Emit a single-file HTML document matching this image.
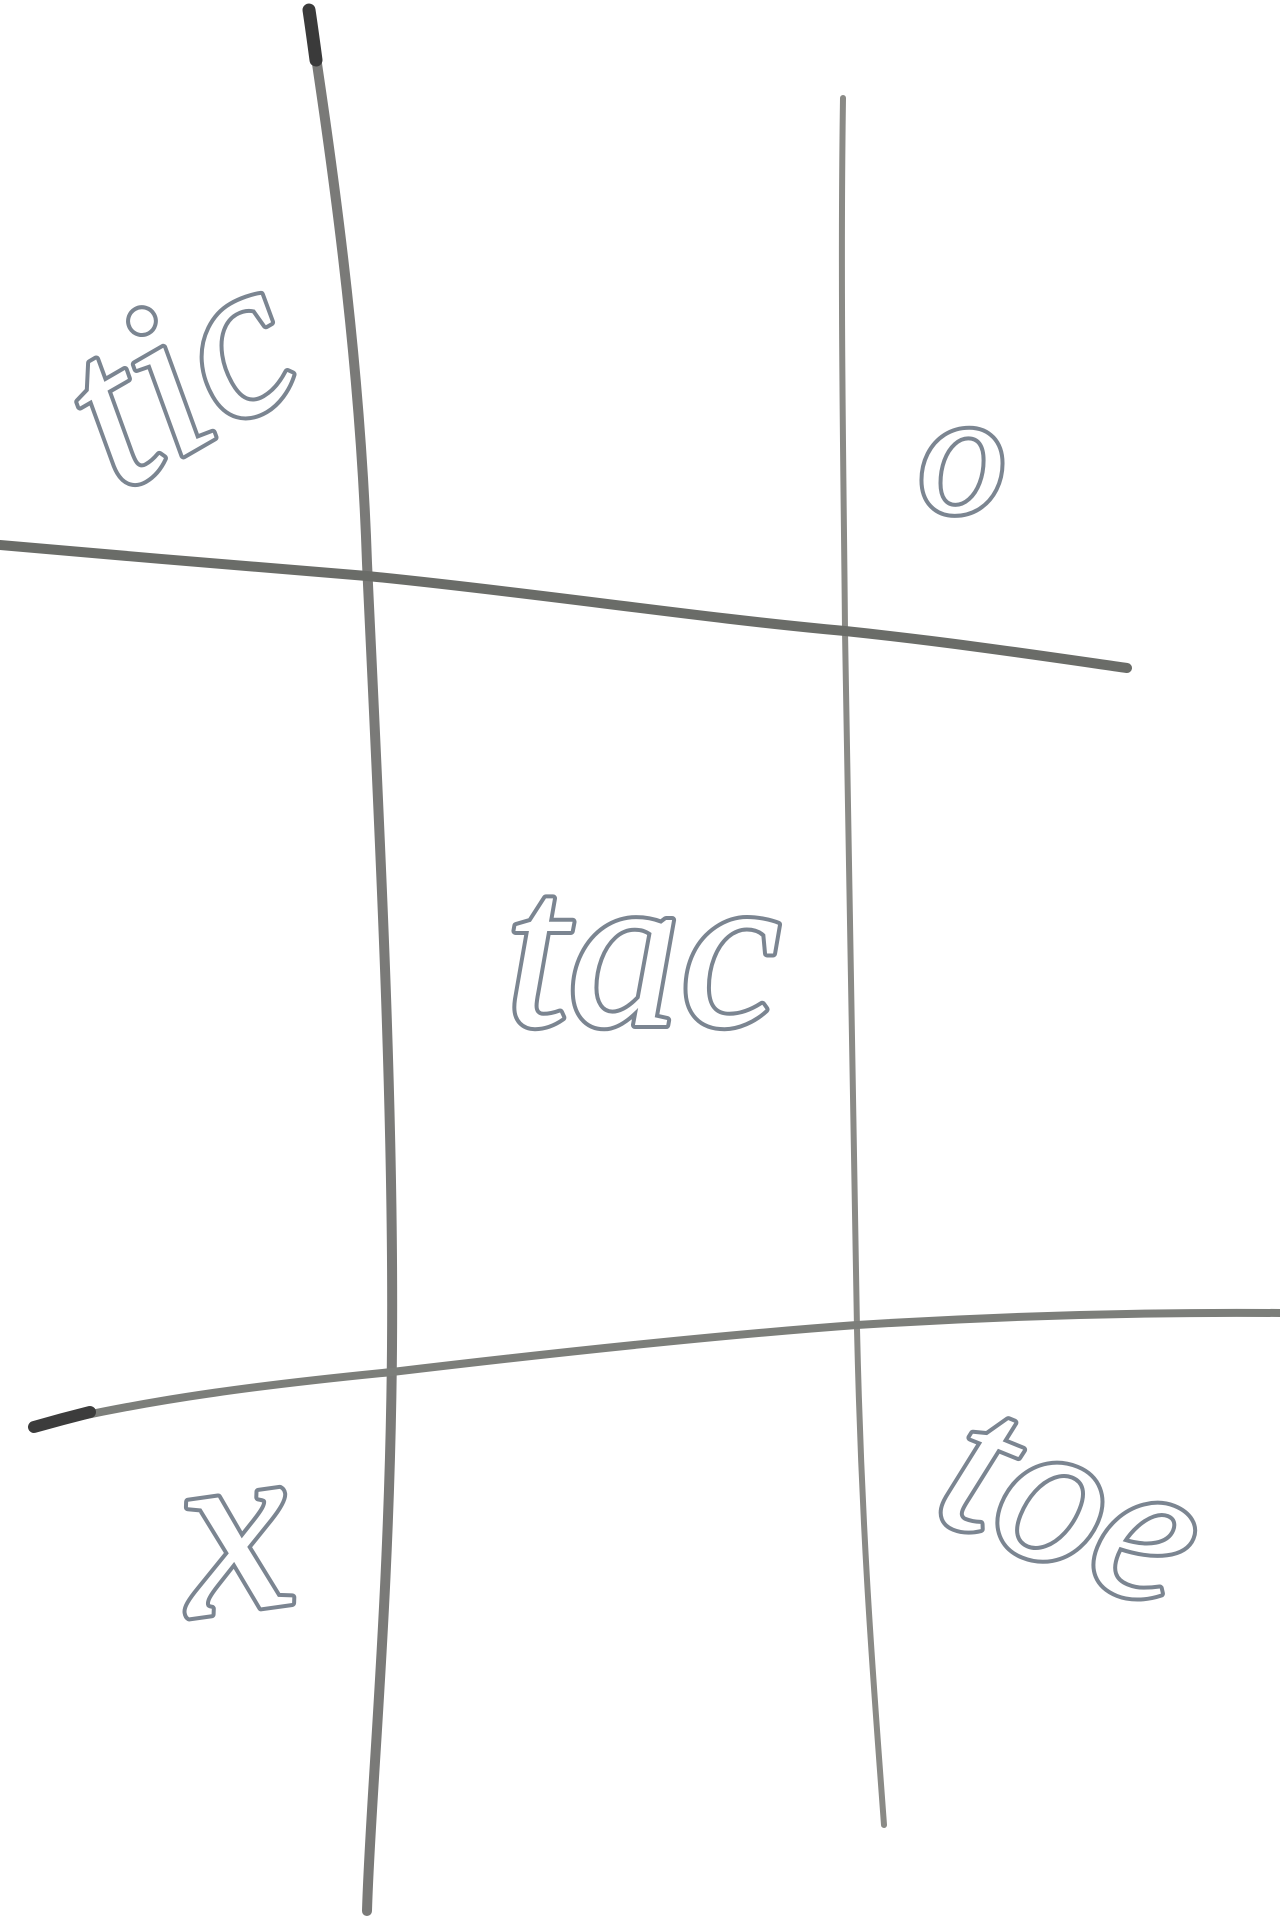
<!DOCTYPE html>
<html>
<head>
<meta charset="utf-8">
<style>
html,body{margin:0;padding:0;background:#fff;}
svg{display:block;}
.w{font-family:"Liberation Serif",serif;font-style:italic;fill:#fff;stroke:#7b8591;stroke-width:8;paint-order:stroke;stroke-linejoin:round;}
</style>
</head>
<body>
<svg width="1280" height="1920" viewBox="0 0 1280 1920">
  <rect width="1280" height="1920" fill="#fff"/>
  <g fill="none" stroke-linecap="round">
    <path d="M309 10 C330 150 360 350 367 563 C378 800 394 1100 392 1347 C390 1600 370 1800 367 1911" stroke="#7a7a78" stroke-width="10"/>
    <path d="M309 10 C312 30 314 45 316 60" stroke="#3a3a3a" stroke-width="13"/>
    <path d="M843 98 C840 300 844 500 845 631 C848 900 852 1150 857 1329 C862 1550 875 1700 884 1825" stroke="#8a8a86" stroke-width="6"/>
    <path d="M0 545 C120 556 250 566 367 576 C530 592 700 618 845 631 C950 642 1050 657 1127 668" stroke="#6a6c68" stroke-width="10"/>
    <path d="M34 1427 C150 1398 280 1383 392 1372 C560 1352 720 1335 857 1325 C1000 1316 1150 1312 1280 1313" stroke="#7c7e7a" stroke-width="8"/>
    <path d="M34 1427 C55 1421 70 1417 90 1412" stroke="#3c3c3c" stroke-width="12"/>
  </g>
  <text class="w" x="190" y="392" font-size="225" text-anchor="middle" dominant-baseline="middle" transform="rotate(-30 190 392)">tic</text>
  <text class="w" x="962" y="472" font-size="175" text-anchor="middle" dominant-baseline="middle">o</text>
  <text class="w" x="643" y="1025" font-size="225" text-anchor="middle">tac</text>
  <text class="w" x="239" y="1610" font-size="250" text-anchor="middle" transform="rotate(-8 239 1565)">x</text>
  <text class="w" x="1066" y="1519" font-size="210" text-anchor="middle" dominant-baseline="middle" transform="rotate(22 1066 1519)">toe</text>
</svg>
</body>
</html>
